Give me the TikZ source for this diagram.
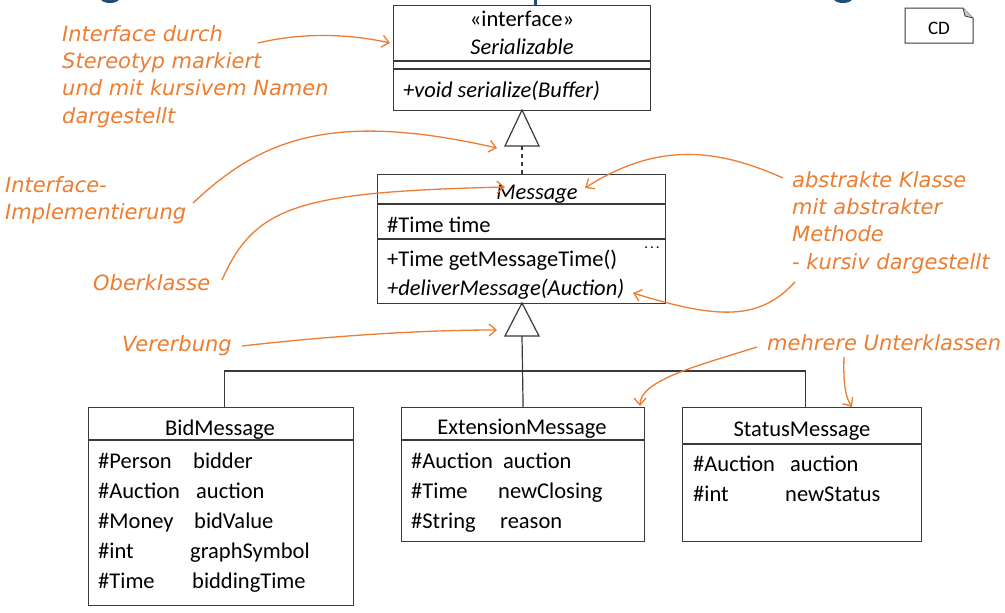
\documentclass[tikz,border=0pt]{standalone}
\usepackage{fontspec}
\setmainfont{Carlito}
\newfontfamily\notefont{DejaVu Sans}
\usetikzlibrary{arrows.meta}
\definecolor{noteor}{HTML}{ED7D31}
\definecolor{titleblue}{HTML}{1F4E79}
\definecolor{boxline}{HTML}{3A3A3A}
\tikzset{
  boxln/.style={draw=boxline, line width=1.2pt},
  clsbox/.style={boxln, anchor=north west, inner sep=0pt, fill=white},
  ctext/.style={font=\fontsize{22.5}{26}\selectfont, inner sep=0pt, text height=18pt, text depth=2pt},
  ctexti/.style={font=\fontsize{22.5}{26}\selectfont\itshape, inner sep=0pt, text height=18pt, text depth=2pt},
  rowtext/.style={ctext, anchor=west},
  note/.style={font=\notefont\itshape\fontsize{21}{27.3}\selectfont, text=noteor, align=left, inner sep=0pt, anchor=north west},
  notearrow/.style={draw=noteor, line width=1.3pt, -{Straight Barb[length=7pt,width=12pt]}},
}
\begin{document}
\begin{tikzpicture}[x=1pt,y=-1pt]
\fill[white] (0,0) rectangle (1005,613);
\useasboundingbox (0,0) rectangle (1005,613);

% cut-off title fragments
\begin{scope}
\clip (0,0) rectangle (1005,613);
\fill[titleblue] (110,-1) ellipse (9pt and 4pt);
\fill[titleblue] (534,-2) rectangle (537,5);
\fill[titleblue] (843,-1) ellipse (9pt and 4pt);
\end{scope}

% CD note
\draw[boxln, line width=1pt, fill=white] (905,8) -- (963,8) -- (973,18) -- (973,43) -- (905,43) -- cycle;
\fill[gray!45] (963,8) -- (973,18) -- (965,16) -- cycle;
\draw[boxline, line width=0.8pt] (963,8) -- (965,16) -- (973,18);
\node[font=\fontsize{19}{22}\selectfont, inner sep=0pt] (cd) at (939,28) {CD};

% Serializable
\node[clsbox, minimum width=257pt, minimum height=105pt] (ser) at (393,5) {};
\draw[boxln] (393,61) -- (650,61) (393,69) -- (650,69);
\node[ctext] (serst) at (522,18) {«interface»};
\node[ctexti] (sername) at (522,46) {Serializable};
\node[ctexti, anchor=west] (serop) at (403,89) {+void serialize(Buffer)};

% Message
\node[clsbox, minimum width=288pt, minimum height=129pt] (msg) at (377,174) {};
\draw[boxln] (377,204) -- (665,204) (377,239) -- (665,239);
\node[ctexti] (msgname) at (537,191) {Message};
\node[rowtext] (msgattr) at (387,224) {\#Time time};
\node[rowtext] (msgop1) at (387,258) {+Time getMessageTime()};
\node[ctexti, anchor=west] (msgop2) at (387,287) {+deliverMessage(Auction)};
\node[font=\fontsize{15}{16}\selectfont, inner sep=0pt] (msgdots) at (652,248) {.\kern2pt.\kern2pt.};

% realization triangle
\draw[boxln, fill=white] (522,110) -- (505,146) -- (539,146) -- cycle;
\coordinate (t1) at (522,146);
\draw[boxln, dash pattern=on 4pt off 4pt] (t1) -- (t1 |- msg.north);

% BidMessage
\node[clsbox, minimum width=265pt, minimum height=198pt] (bid) at (88,407) {};
\draw[boxln] (88,440) -- (353,440);
\node[ctext] (bidname) at (220,427) {BidMessage};
\node[rowtext] (b1a) at (98,460) {\#Person};   \node[rowtext] (b1b) at (193,460) {bidder};
\node[rowtext] (b2a) at (98,490) {\#Auction};  \node[rowtext] (b2b) at (196,490) {auction};
\node[rowtext] (b3a) at (98,520) {\#Money};    \node[rowtext] (b3b) at (194,520) {bidValue};
\node[rowtext] (b4a) at (98,550) {\#int};      \node[rowtext] (b4b) at (190,550) {graphSymbol};
\node[rowtext] (b5a) at (98,580) {\#Time};     \node[rowtext] (b5b) at (192,580) {biddingTime};

% ExtensionMessage
\node[clsbox, minimum width=243pt, minimum height=134pt] (ext) at (401,407) {};
\draw[boxln] (401,440) -- (644,440);
\node[ctext] (extname) at (522,426) {ExtensionMessage};
\node[rowtext] (e1a) at (411,460) {\#Auction}; \node[rowtext] (e1b) at (503,460) {auction};
\node[rowtext] (e2a) at (411,490) {\#Time};    \node[rowtext] (e2b) at (498,490) {newClosing};
\node[rowtext] (e3a) at (411,520) {\#String};  \node[rowtext] (e3b) at (500,520) {reason};

% StatusMessage
\node[clsbox, minimum width=239pt, minimum height=134pt] (stat) at (682,407) {};
\draw[boxln] (682,444) -- (921,444);
\node[ctext] (statname) at (802,428) {StatusMessage};
\node[rowtext] (s1a) at (693,463) {\#Auction}; \node[rowtext] (s1b) at (790,463) {auction};
\node[rowtext] (s2a) at (693,493) {\#int};     \node[rowtext] (s2b) at (785,493) {newStatus};

% generalization
\draw[boxln, fill=white] (522,303) -- (505,336) -- (539,336) -- cycle;
\coordinate (t2) at (522,336);
\coordinate (bus) at (522,371);
\draw[boxln] (t2) -- (ext.north);
\draw[boxln] ([xshift=3.5pt]bid.north) |- (bus) -| ([xshift=3.5pt]stat.north);

% annotations
\node[note] (n1) at (62,25) {Interface durch\\Stereotyp markiert\\und mit kursivem Namen\\dargestellt};
\node[note] (n2) at (5,176) {Interface-\\Implementierung};
\node[note] (n3) at (93,274) {Oberklasse};
\node[note] (n4) at (122,335) {Vererbung};
\node[note] (n5) at (792,171) {abstrakte Klasse\\mit abstrakter\\Methode\\- kursiv dargestellt};
\node[note] (n6) at (767,334) {mehrere Unterklassen};

\coordinate (a1s) at (258,43);  \coordinate (a1e) at (390,43);
\coordinate (a2s) at (193,203); \coordinate (a2e) at (497,148);
\coordinate (a3s) at (222,280); \coordinate (a3e) at (505,187);
\coordinate (a4s) at (242,346); \coordinate (a4e) at (497,330);
\coordinate (a5s) at (783,178); \coordinate (a5e) at (585,188);
\coordinate (a6s) at (795,282); \coordinate (a6e) at (633,293);
\coordinate (a7s) at (757,347); \coordinate (a7e) at (640,406);
\coordinate (a8s) at (844,357); \coordinate (a8e) at (852,407);

\draw[notearrow] (a1s) .. controls (300,33) and (345,33) .. (a1e);
\draw[notearrow] (a2s) .. controls (260,140) and (330,110) .. (a2e);
\draw[notearrow] (a3s) .. controls (255,205) and (300,192) .. (a3e);
\draw[notearrow] (a4s) .. controls (330,336) and (420,330) .. (a4e);
\draw[notearrow] (a5s) .. controls (720,150) and (660,140) .. (a5e);
\draw[notearrow] (a6s) .. controls (760,320) and (720,320) .. (a6e);
\draw[notearrow] (a7s) .. controls (700,365) and (640,380) .. (a7e);
\draw[notearrow] (a8s) .. controls (843,385) and (846,398) .. (a8e);
\end{tikzpicture}
\end{document}
